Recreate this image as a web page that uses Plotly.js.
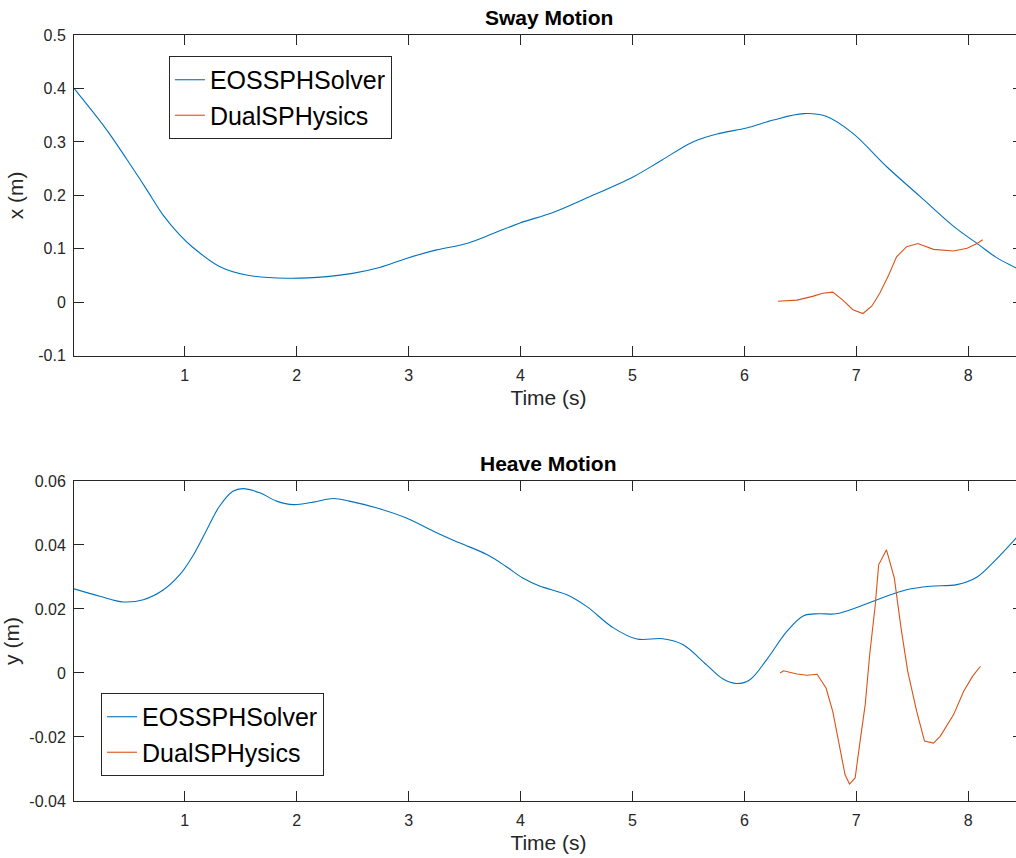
<!DOCTYPE html>
<html>
<head>
<meta charset="utf-8">
<script src="https://cdn.plot.ly/plotly-3.0.1.min.js"></script>
<style>
html,body{margin:0;padding:0;overflow:hidden;background:#fff;}
#chart{width:1024px;height:858px;}
</style>
</head>
<body>
<div id="chart"></div>
<script>
// ---- Sway motion (top) ----
const swayEosT = [0.01,0.30,0.48,0.65,0.81,0.95,1.07,1.31,1.55,1.91,2.27,2.50,2.74,2.98,3.25,3.52,3.76,3.99,4.29,4.59,5.01,5.24,5.54,5.78,6.02,6.26,6.53,6.73,6.97,7.27,7.57,7.87,8.10,8.25,8.43,8.50];
const swayEosX = [0.400,0.323,0.268,0.214,0.162,0.127,0.103,0.067,0.051,0.045,0.048,0.054,0.065,0.082,0.098,0.110,0.129,0.148,0.168,0.195,0.235,0.263,0.300,0.316,0.326,0.341,0.353,0.348,0.316,0.254,0.198,0.142,0.107,0.084,0.064,0.056];
const swayDualT = [6.30,6.47,6.61,6.70,6.79,6.88,6.97,7.06,7.14,7.21,7.29,7.36,7.45,7.55,7.69,7.87,7.99,8.08,8.13];
const swayDualX = [0.002,0.004,0.011,0.017,0.019,0.004,-0.014,-0.021,-0.007,0.017,0.051,0.085,0.104,0.110,0.099,0.096,0.101,0.110,0.117];

// ---- Heave motion (bottom) ----
const heaveEosT = [0.01,0.24,0.45,0.63,0.81,0.955,1.07,1.19,1.31,1.43,1.52,1.67,1.82,1.97,2.15,2.33,2.47,2.71,2.98,3.25,3.46,3.70,3.87,4.02,4.17,4.41,4.59,4.83,5.04,5.27,5.45,5.66,5.81,5.93,6.05,6.20,6.38,6.53,6.67,6.82,7.03,7.24,7.45,7.66,7.90,8.08,8.22,8.43,8.50];
const heaveEosY = [0.0263,0.0240,0.0222,0.0229,0.0260,0.0307,0.0365,0.0443,0.0521,0.0568,0.0576,0.0563,0.0537,0.0526,0.0534,0.0545,0.0537,0.0516,0.0484,0.0438,0.0406,0.0370,0.0333,0.0297,0.0272,0.0245,0.0208,0.0141,0.0106,0.0107,0.0089,0.0026,-0.0019,-0.0033,-0.0021,0.0042,0.0130,0.0179,0.0185,0.0185,0.0208,0.0236,0.0260,0.0271,0.0276,0.0300,0.0344,0.0422,0.0450];
const heaveDualT = [6.32,6.35,6.47,6.56,6.65,6.73,6.79,6.85,6.90,6.94,6.99,7.03,7.08,7.12,7.17,7.20,7.27,7.34,7.40,7.46,7.54,7.61,7.69,7.75,7.87,7.96,8.04,8.11];
const heaveDualY = [0.0000,0.0007,-0.0003,-0.0007,-0.0004,-0.0047,-0.0120,-0.0224,-0.0318,-0.0347,-0.0328,-0.0224,-0.0099,0.0057,0.0213,0.0338,0.0385,0.0297,0.0141,0.0005,-0.0120,-0.0213,-0.0219,-0.0198,-0.0130,-0.0057,-0.0010,0.0021];

// ---- Ticks ----
const timeTicks = [1,2,3,4,5,6,7,8];
const timeTickText = ['1','2','3','4','5','6','7','8'];
const swayTicks = [-0.1,0,0.1,0.2,0.3,0.4,0.5];
const swayTickText = ['-0.1','0','0.1','0.2','0.3','0.4','0.5'];
const heaveTicks = [-0.04,-0.02,0,0.02,0.04,0.06];
const heaveTickText = ['-0.04','-0.02','0','0.02','0.04','0.06'];

const names = ['EOSSPHSolver','DualSPHysics'];
const blue = '#0072BD', orange = '#D95319';
const FONT = 'Liberation Sans, Arial, Helvetica, sans-serif';
const axCol = '#262626';

const traces = [
  {x: swayEosT, y: swayEosX, name: names[0], mode:'lines', line:{color:blue,width:1.1,shape:'spline',smoothing:1}, xaxis:'x', yaxis:'y', legend:'legend'},
  {x: swayDualT, y: swayDualX, name: names[1], mode:'lines', line:{color:orange,width:1.1}, xaxis:'x', yaxis:'y', legend:'legend'},
  {x: heaveEosT, y: heaveEosY, name: names[0], mode:'lines', line:{color:blue,width:1.1,shape:'spline',smoothing:1}, xaxis:'x2', yaxis:'y2', legend:'legend2'},
  {x: heaveDualT, y: heaveDualY, name: names[1], mode:'lines', line:{color:orange,width:1.1}, xaxis:'x2', yaxis:'y2', legend:'legend2'}
];

function xAx(anchor){
  return {
    anchor: anchor, domain:[0,1], range:[0.01,8.49],
    tickmode:'array', tickvals: timeTicks, ticktext: timeTickText,
    ticks:'inside', ticklen:10, tickwidth:1, tickcolor:axCol,
    showline:true, linecolor:axCol, linewidth:1, mirror:'ticks',
    showgrid:false, zeroline:false,
    tickfont:{family:FONT,size:16,color:axCol},
    ticklabelstandoff:5,
    title:{text:'Time (s)', font:{family:FONT,size:21,color:axCol}, standoff:7}
  };
}
function yAx(anchor, domain, range, tv, tt, label){
  return {
    anchor: anchor, domain: domain, range: range,
    tickmode:'array', tickvals: tv, ticktext: tt,
    ticks:'inside', ticklen:10, tickwidth:1, tickcolor:axCol,
    showline:true, linecolor:axCol, linewidth:1, mirror:'ticks',
    showgrid:false, zeroline:false,
    tickfont:{family:FONT,size:16,color:axCol},
    ticklabelstandoff:4,
    title:{text:label, font:{family:FONT,size:21,color:axCol}, standoff:8}
  };
}

const legendStyle = {
  xref:'paper', yref:'paper', xanchor:'left', yanchor:'top',
  bgcolor:'#ffffff', bordercolor:axCol, borderwidth:1,
  font:{family:FONT,size:25,color:'#000'}, tracegroupgap:0
};

const layout = {
  width:1024, height:858,
  margin:{l:74, r:1, t:35, b:57},
  paper_bgcolor:'#fff', plot_bgcolor:'#fff',
  showlegend:true,
  xaxis: xAx('y'),
  yaxis: yAx('x', [0.5813,1], [-0.1,0.5], swayTicks, swayTickText, 'x (m)'),
  xaxis2: xAx('y2'),
  yaxis2: yAx('x2', [0,0.4178], [-0.04,0.06], heaveTicks, heaveTickText, 'y (m)'),
  legend: Object.assign({}, legendStyle, {x:0.100, y:0.9726}),
  legend2: Object.assign({}, legendStyle, {x:0.0285, y:0.141}),
  annotations:[
    {text:'<b>Sway Motion</b>', xref:'paper', yref:'paper', x:0.5, y:1, yanchor:'bottom', yshift:4, showarrow:false, font:{family:FONT,size:21,color:'#000'}},
    {text:'<b>Heave Motion</b>', xref:'paper', yref:'paper', x:0.5, y:0.4178, yanchor:'bottom', yshift:4, showarrow:false, font:{family:FONT,size:21,color:'#000'}}
  ]
};

Plotly.newPlot('chart', traces, layout, {displayModeBar:false, staticPlot:true});
</script>
</body>
</html>
